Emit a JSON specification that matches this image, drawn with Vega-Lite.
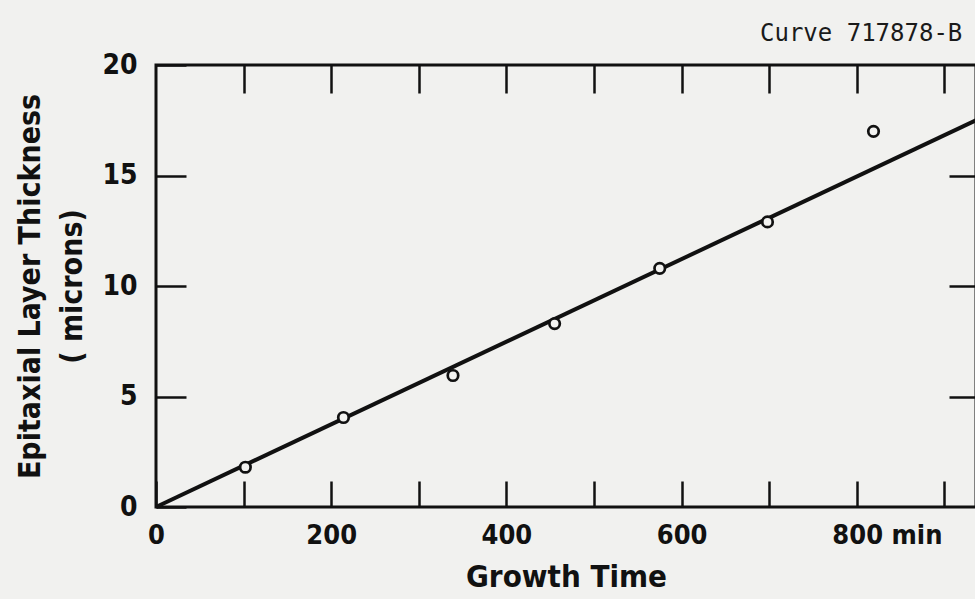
{
  "$schema": "https://vega.github.io/schema/vega-lite/v6.json",
  "width": 820,
  "height": 442,
  "autosize": {"type": "none"},
  "padding": {"left": 156, "top": 65, "right": 0, "bottom": 92},
  "background": "#f1f1ef",
  "title": {
    "text": "Curve 717878-B",
    "anchor": "start",
    "frame": "group",
    "dx": 604,
    "offset": 5,
    "font": "DejaVu Sans Mono",
    "fontSize": 24,
    "fontWeight": "normal",
    "color": "#1a1a1a"
  },
  "config": {
    "view": {"stroke": "#111111", "strokeWidth": 3},
    "axis": {
      "domain": false,
      "grid": false,
      "labelFont": "DejaVu Sans Condensed, Roboto",
      "labelFontWeight": "bold",
      "labelColor": "#111111",
      "titleFont": "DejaVu Sans Condensed, Roboto",
      "titleFontWeight": "bold",
      "titleColor": "#111111",
      "tickColor": "#111111",
      "tickWidth": 2.5
    }
  },
  "datasets": {
    "fit": [
      {"t": 0, "d": 0},
      {"t": 936, "d": 17.5}
    ],
    "measured": [
      {"t": 102, "d": 1.8},
      {"t": 214, "d": 4.05},
      {"t": 339, "d": 5.95},
      {"t": 455, "d": 8.3},
      {"t": 575, "d": 10.8},
      {"t": 698, "d": 12.9},
      {"t": 819, "d": 17.0}
    ]
  },
  "layer": [
    {
      "data": {"name": "fit"},
      "mark": {"type": "line", "stroke": "#111111", "strokeWidth": 4},
      "encoding": {
        "x": {
          "field": "t",
          "type": "quantitative",
          "scale": {"domain": [0, 936], "nice": false, "zero": false},
          "axis": {"orient": "top", "values": [100, 200, 300, 400, 500, 600, 700, 800, 900], "labels": false, "title": null, "tickSize": -28}
        },
        "y": {
          "field": "d",
          "type": "quantitative",
          "scale": {"domain": [0, 20], "nice": false},
          "axis": {"orient": "right", "values": [5, 10, 15], "labels": false, "title": null, "tickSize": -27}
        }
      }
    },
    {
      "data": {"name": "measured"},
      "mark": {"type": "point", "shape": "circle", "fill": "#f3f3f1", "stroke": "#111111", "strokeWidth": 2.7, "opacity": 1, "size": 110},
      "encoding": {
        "x": {
          "field": "t",
          "type": "quantitative",
          "axis": {
            "orient": "bottom",
            "values": [0, 100, 200, 300, 400, 500, 600, 700, 800, 900],
            "tickSize": -26,
            "labelExpr": "datum.value % 200 == 0 && datum.value < 900 ? (datum.value == 800 ? '800  min' : datum.label) : ''",
            "labelAlign": {"condition": {"test": "datum.value == 800", "value": "left"}, "value": "center"},
            "labelOffset": {"condition": {"test": "datum.value == 800", "value": -25}, "value": 0},
            "labelFontSize": 27,
            "labelPadding": 41,
            "title": "Growth Time",
            "titleFontSize": 31,
            "titlePadding": 14
          }
        },
        "y": {
          "field": "d",
          "type": "quantitative",
          "axis": {
            "orient": "left",
            "values": [0, 5, 10, 15, 20],
            "tickSize": -30,
            "labelFontSize": 28,
            "labelPadding": 49,
            "title": ["Epitaxial Layer Thickness", "( microns)"],
            "titleFontSize": 30,
            "titleLineHeight": 42,
            "titlePadding": 14
          }
        }
      }
    }
  ],
  "resolve": {"axis": {"x": "independent", "y": "independent"}}
}
